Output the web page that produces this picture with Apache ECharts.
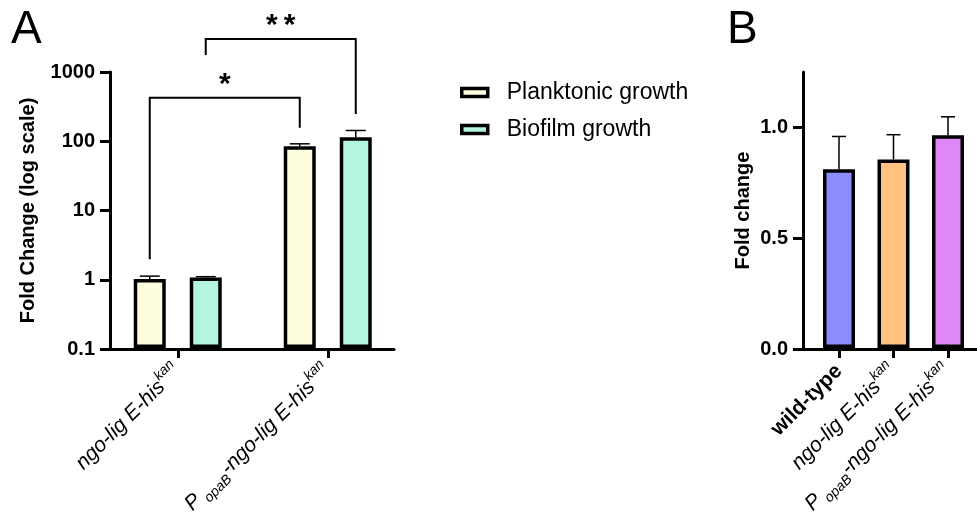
<!DOCTYPE html>
<html><head><meta charset="utf-8">
<script src="https://cdn.jsdelivr.net/npm/echarts@6/dist/echarts.min.js"></script>
<style>html,body{margin:0;padding:0;background:#fff}#c{width:977px;height:520px}</style>
</head><body><div id="c"></div>
<script>
// ---------- data ----------
const strainsA = ['ngo-lig E-his^kan', 'P_opaB-ngo-lig E-his^kan'];
const seriesNamesA = ['Planktonic growth', 'Biofilm growth'];
const planktonic = [1.0, 84];
const planktonicErrTop = [1.1, 91];
const biofilm = [1.05, 113];
const biofilmErrTop = [1.08, 142];
const logTicksA = [0.1, 1, 10, 100, 1000];
// significance brackets
const sigLabels = ['*', '*\u2009*'];
const sigSeries = [0, 1];
const sigLowLeft = [1.93, 1760];
const sigTop = [422, 3000];
const sigLowRight = [155, 247];

const strainsB = ['wild-type', 'ngo-lig E-his^kan', 'P_opaB-ngo-lig E-his^kan'];
const foldB = [0.81, 0.854, 0.964];
const foldBErrTop = [0.958, 0.966, 1.047];
const ticksB = [0, 0.5, 1.0];

// ---------- style ----------
const FONT = 'Liberation Sans, Arial, Helvetica, sans-serif';
const colorsA = ['#FFFDE0', '#B3F5DF'];
const colorsB = ['#8C8CFF', '#FFC080', '#DD88F5'];
const BAR_W = 32, BAR_GAP = 0.75;
const HALF = BAR_W * (1 + BAR_GAP) / 2;

function richLabel(s) {
  if (s === 'wild-type') return '{b|' + s + '}';
  const parts = s.split(/(\^\w+|_\w+)/).filter(p => p.length);
  return parts.map(p => {
    if (p[0] === '^') return '{sup|' + p.slice(1) + '}';
    if (p[0] === '_') return '{sub|' + p.slice(1) + '}';
    return '{i|' + p + '}';
  }).join('');
}
const richStyles = {
  i: {fontFamily: FONT, fontStyle: 'italic', fontSize: 21, lineHeight: 30, color: '#000'},
  b: {fontFamily: FONT, fontWeight: 'bold', fontSize: 21, lineHeight: 30, color: '#000'},
  sup: {fontFamily: FONT, fontStyle: 'italic', fontSize: 14, verticalAlign: 'top', color: '#000'},
  sub: {fontFamily: FONT, fontStyle: 'italic', fontSize: 14, verticalAlign: 'bottom', color: '#000', padding: [0, 0, 0, 4]}
};

const gridTop = 72, gridH = 277;

function catAxis(grid, cats) {
  return {
    type: 'category', gridIndex: grid, data: cats,
    axisLine: {show: false},
    axisTick: {show: true, alignWithLabel: true, length: 10, lineStyle: {color: '#000', width: 3}},
    axisLabel: {interval: 0, rotate: 45, margin: 20, formatter: v => richLabel(v), rich: richStyles}
  };
}
function lineAxis(grid) {
  return {type: 'value', gridIndex: grid, axisLine: {show: true, onZero: false, lineStyle: {color: '#000', width: 3}},
    axisTick: {show: false}, axisLabel: {show: false}, splitLine: {show: false}};
}

function errRender(capW, withSeriesOffset) {
  return function (params, api) {
    const c = api.value(0);
    const p0 = api.coord([c, api.value(1)]);
    const p1 = api.coord([c, api.value(2)]);
    let dx = 0;
    if (withSeriesOffset) dx = api.value(3) === 0 ? -HALF : HALF;
    const x = p0[0] + dx;
    const st = {stroke: '#000', lineWidth: 1.5};
    return {type: 'group', children: [
      {type: 'line', shape: {x1: x, y1: p0[1], x2: x, y2: p1[1]}, style: st},
      {type: 'line', shape: {x1: x - capW / 2, y1: p1[1], x2: x + capW / 2, y2: p1[1]}, style: st}
    ]};
  };
}

const errDataA = [];
[planktonic, biofilm].forEach((arr, s) => {
  const tops = s === 0 ? planktonicErrTop : biofilmErrTop;
  arr.forEach((v, i) => errDataA.push([i, v, tops[i], s]));
});
const errDataB = foldB.map((v, i) => [i, v, foldBErrTop[i]]);
const sigData = sigLabels.map((l, i) => [0, sigLowLeft[i], sigTop[i], sigLowRight[i], sigSeries[i]]);

const chart = echarts.init(document.getElementById('c'), null, {renderer: 'canvas'});
chart.setOption({
  animation: false,
  backgroundColor: '#fff',
  textStyle: {fontFamily: FONT},
  title: [
    {text: 'A', left: 6, top: 2, textStyle: {fontFamily: FONT, fontSize: 46, fontWeight: 'normal', color: '#000'}},
    {text: 'B', left: 722, top: 2, textStyle: {fontFamily: FONT, fontSize: 46, fontWeight: 'normal', color: '#000'}}
  ],
  legend: {
    data: seriesNamesA, orient: 'vertical', left: 460, top: 81, itemGap: 14, padding: 0,
    icon: 'rect', itemWidth: 26, itemHeight: 8,
    itemStyle: {borderColor: '#000', borderWidth: 3.5},
    textStyle: {fontFamily: FONT, fontSize: 23, color: '#000', lineHeight: 23, padding: [0, 0, 0, 14]}
  },
  grid: [
    {left: 102.75, top: gridTop, width: 300, height: gridH},
    {left: 110, top: gridTop, width: 284, height: gridH},
    {left: 811.75, top: gridTop, width: 163.5, height: gridH},
    {left: 803, top: gridTop, width: 174, height: gridH}
  ],
  xAxis: [catAxis(0, strainsA), lineAxis(1), catAxis(2, strainsB), lineAxis(3)],
  yAxis: [
    {type: 'log', gridIndex: 0, min: 0.1, max: 1000, startValue: 0.1, show: false},
    {type: 'log', gridIndex: 1, min: 0.1, max: 1000,
      axisLine: {show: true, lineStyle: {color: '#000', width: 3}},
      axisTick: {show: true, length: 10, lineStyle: {color: '#000', width: 3}, customValues: logTicksA},
      axisLabel: {customValues: logTicksA, margin: 15, fontFamily: FONT, fontSize: 20, fontWeight: 'bold', color: '#000',
        formatter: v => (v < 1 ? v.toFixed(1) : String(Math.round(v)))},
      splitLine: {show: false}, minorTick: {show: false},
      name: 'Fold Change (log scale)', nameLocation: 'middle', nameGap: 72,
      nameTextStyle: {fontFamily: FONT, fontSize: 20, fontWeight: 'bold', color: '#000'}
    },
    {type: 'value', gridIndex: 2, min: 0, max: 1.25, show: false},
    {type: 'value', gridIndex: 3, min: 0, max: 1.25,
      axisLine: {show: true, lineStyle: {color: '#000', width: 3}},
      axisTick: {show: true, length: 10, lineStyle: {color: '#000', width: 3}, customValues: ticksB},
      axisLabel: {customValues: ticksB, margin: 15, fontFamily: FONT, fontSize: 20, fontWeight: 'bold', color: '#000',
        formatter: v => v.toFixed(1)},
      splitLine: {show: false},
      name: 'Fold change', nameLocation: 'middle', nameGap: 50,
      nameTextStyle: {fontFamily: FONT, fontSize: 20, fontWeight: 'bold', color: '#000'}
    }
  ],
  series: [
    {name: seriesNamesA[0], type: 'bar', xAxisIndex: 0, yAxisIndex: 0, data: planktonic,
      barWidth: BAR_W, barGap: (BAR_GAP * 100) + '%',
      itemStyle: {color: colorsA[0], borderColor: '#000', borderWidth: 3.5}},
    {name: seriesNamesA[1], type: 'bar', xAxisIndex: 0, yAxisIndex: 0, data: biofilm,
      barWidth: BAR_W, barGap: (BAR_GAP * 100) + '%',
      itemStyle: {color: colorsA[1], borderColor: '#000', borderWidth: 3.5}},
    {type: 'custom', xAxisIndex: 0, yAxisIndex: 0, data: errDataA, z: 5, clip: false,
      encode: {x: 0, y: [1, 2]}, renderItem: errRender(20, true)},
    {type: 'custom', xAxisIndex: 0, yAxisIndex: 0, data: sigData, z: 5, clip: false,
      encode: {x: 0, y: [1, 2, 3]},
      renderItem: function (params, api) {
        const s = api.value(4);
        const dx = s === 0 ? -HALF : HALF;
        const pL = api.coord([0, api.value(1)]);
        const pT = api.coord([0, api.value(2)]);
        const pR = api.coord([1, api.value(3)]);
        const xL = pL[0] + dx, xR = pR[0] + dx;
        return {type: 'group', children: [
          {type: 'polyline', shape: {points: [[xL, pL[1]], [xL, pT[1]], [xR, pT[1]], [xR, pR[1]]]},
            style: {stroke: '#000', lineWidth: 2, fill: null}},
          {type: 'text', x: (xL + xR) / 2, y: pT[1] - 13,
            style: {text: sigLabels[params.dataIndex], fontFamily: FONT, fontSize: 30, fontWeight: 'bold',
              fill: '#000', align: 'center', verticalAlign: 'middle'}}
        ]};
      }},
    {type: 'bar', xAxisIndex: 2, yAxisIndex: 2, barWidth: BAR_W,
      data: foldB.map((v, i) => ({value: v, itemStyle: {color: colorsB[i]}})),
      itemStyle: {borderColor: '#000', borderWidth: 3.5}},
    {type: 'custom', xAxisIndex: 2, yAxisIndex: 2, data: errDataB, z: 5, clip: false,
      encode: {x: 0, y: [1, 2]}, renderItem: errRender(14, false)}
  ]
});
</script></body></html>
